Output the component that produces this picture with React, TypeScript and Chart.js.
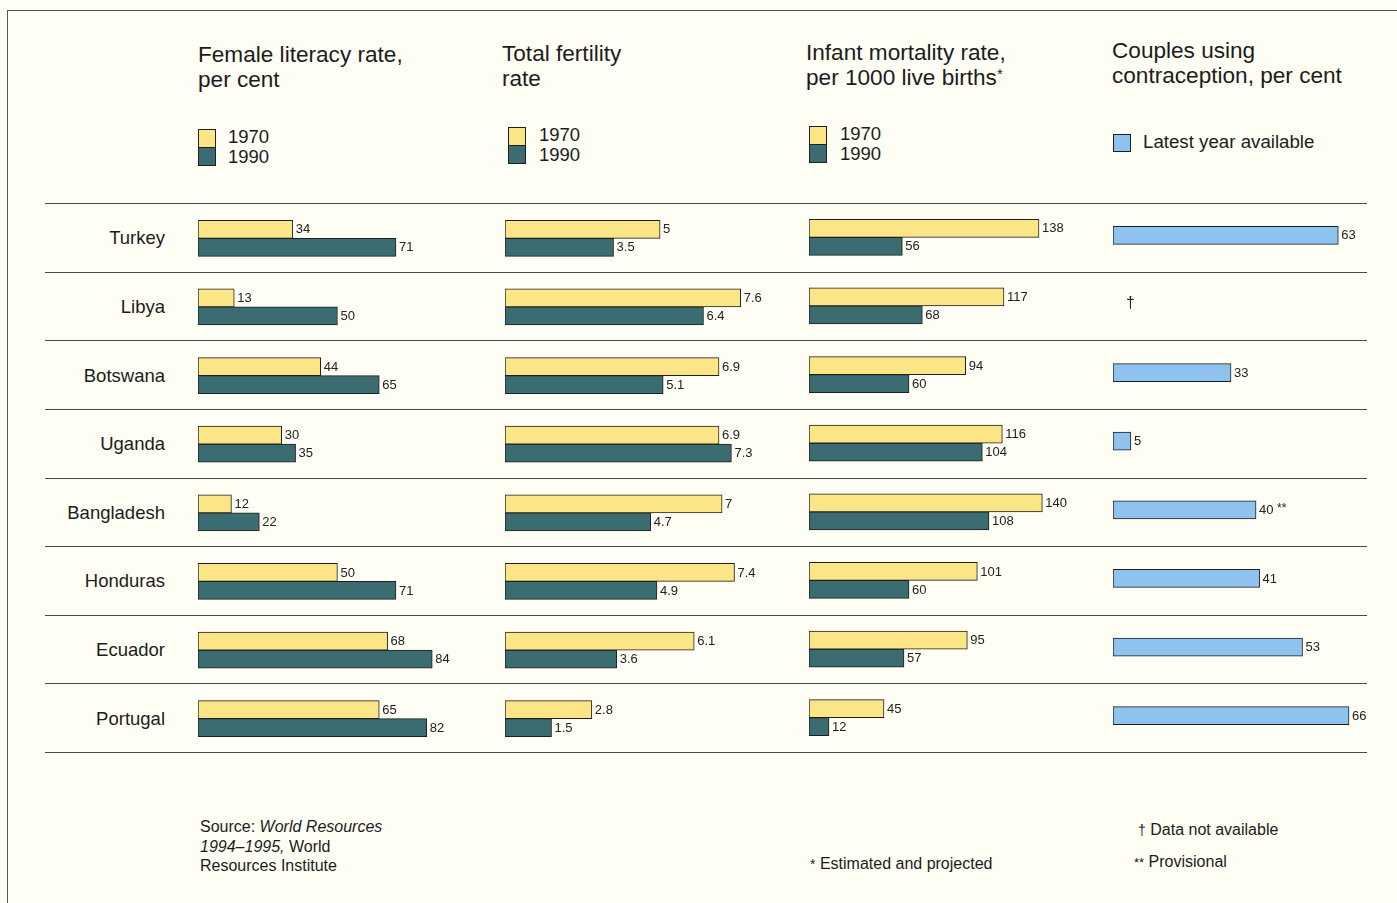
import React, { useEffect, useRef } from "react";
import { Chart, registerables } from "chart.js";

Chart.register(...registerables);

const countries = ["Turkey", "Libya", "Botswana", "Uganda", "Bangladesh", "Honduras", "Ecuador", "Portugal"];
const literacy1970 = [34, 13, 44, 30, 12, 50, 68, 65];
const literacy1990 = [71, 50, 65, 35, 22, 71, 84, 82];
const fertility1970 = [5, 7.6, 6.9, 6.9, 7, 7.4, 6.1, 2.8];
const fertility1990 = [3.5, 6.4, 5.1, 7.3, 4.7, 4.9, 3.6, 1.5];
const mortality1970 = [138, 117, 94, 116, 140, 101, 95, 45];
const mortality1990 = [56, 68, 60, 104, 108, 60, 57, 12];
const contraception: (number | null)[] = [63, null, 33, 5, 40, 41, 53, 66];
const contraceptionNotes = ["", "†", "", "", "**", "", "", ""];
const seriesYears = ["1970", "1990"];

const FONT = '"Liberation Sans", Arial, Helvetica, sans-serif';
const YELLOW = "#fbe586";
const TEAL = "#3b6c71";
const BLUE = "#8ec3f0";
const EDGE = "#1f1f1f";
const BG = "#fefef4";

const ROW_TOP = 204;
const ROW_BOTTOM = 753;
const ROW_H = (ROW_BOTTOM - ROW_TOP) / countries.length;

type PanelDef = {
  left: number;
  top: number;
  width: number;
  max: number;
  datasets: { label: string; data: (number | null)[]; color: string }[];
  notes?: string[];
};

const panels: PanelDef[] = [
  {
    left: 198, top: ROW_TOP, width: 290, max: 104,
    datasets: [
      { label: seriesYears[0], data: literacy1970, color: YELLOW },
      { label: seriesYears[1], data: literacy1990, color: TEAL },
    ],
  },
  {
    left: 505, top: ROW_TOP, width: 290, max: 9.35,
    datasets: [
      { label: seriesYears[0], data: fertility1970, color: YELLOW },
      { label: seriesYears[1], data: fertility1990, color: TEAL },
    ],
  },
  {
    left: 809, top: ROW_TOP - 1, width: 290, max: 174,
    datasets: [
      { label: seriesYears[0], data: mortality1970, color: YELLOW },
      { label: seriesYears[1], data: mortality1990, color: TEAL },
    ],
  },
  {
    left: 1113, top: ROW_TOP - 3, width: 270, max: 75.5,
    datasets: [{ label: "Latest year available", data: contraception, color: BLUE }],
    notes: contraceptionNotes,
  },
];

const valueLabels = {
  id: "valueLabels",
  afterDatasetsDraw(chart: any, _args: any, opts: any) {
    const ctx = chart.ctx;
    const notes: string[] | undefined = opts.notes;
    ctx.save();
    ctx.font = `13px ${FONT}`;
    ctx.fillStyle = "#222";
    ctx.textBaseline = "middle";
    ctx.textAlign = "left";
    chart.data.datasets.forEach((ds: any, di: number) => {
      const meta = chart.getDatasetMeta(di);
      meta.data.forEach((bar: any, i: number) => {
        const v = ds.data[i];
        const note = notes ? notes[i] : "";
        if (v === null || v === undefined) {
          const x = chart.scales.x.getPixelForValue(0) + 13;
          const y = chart.scales.y.getPixelForValue(i);
          ctx.font = `16px ${FONT}`;
          ctx.fillText(note, x, y);
          ctx.font = `13px ${FONT}`;
          return;
        }
        const txt = String(v);
        ctx.fillText(txt, bar.x + 3, bar.y + 0.5);
        if (note) {
          const w = ctx.measureText(txt + " ").width;
          ctx.font = `12px ${FONT}`;
          ctx.fillText(note, bar.x + 3 + w, bar.y - 1);
          ctx.font = `13px ${FONT}`;
        }
      });
    });
    ctx.restore();
  },
};

function Panel({ def }: { def: PanelDef }) {
  const ref = useRef<HTMLCanvasElement | null>(null);
  useEffect(() => {
    if (!ref.current) return;
    const chart = new Chart(ref.current, {
      type: "bar",
      data: {
        labels: countries,
        datasets: def.datasets.map((d) => ({
          label: d.label,
          data: d.data,
          backgroundColor: d.color,
          borderColor: EDGE,
          borderWidth: 1,
          borderSkipped: false,
          barThickness: 18,
        })),
      },
      options: {
        indexAxis: "y",
        animation: false,
        responsive: false,
        devicePixelRatio: 1,
        layout: { padding: 0 },
        scales: {
          x: { display: false, min: 0, max: def.max },
          y: { display: false, offset: true },
        },
        plugins: {
          legend: { display: false },
          tooltip: { enabled: false },
          valueLabels: { notes: def.notes },
        } as any,
      },
      plugins: [valueLabels],
    });
    return () => chart.destroy();
  }, [def]);
  return (
    <canvas
      ref={ref}
      width={def.width}
      height={ROW_BOTTOM - ROW_TOP}
      style={{ position: "absolute", left: def.left, top: def.top, width: def.width, height: ROW_BOTTOM - ROW_TOP }}
    />
  );
}

const txt = (extra: React.CSSProperties): React.CSSProperties => ({
  position: "absolute",
  fontFamily: FONT,
  color: "#1c1c1c",
  whiteSpace: "nowrap",
  ...extra,
});

function Legend2({ x, y, tx }: { x: number; y: number; tx: number }) {
  return (
    <>
      <div style={{ position: "absolute", left: x, top: y, width: 16, height: 17, background: YELLOW, border: `1px solid ${EDGE}`, borderBottom: "none" }} />
      <div style={{ position: "absolute", left: x, top: y + 18, width: 16, height: 17, background: TEAL, border: `1px solid ${EDGE}` }} />
      <div style={txt({ left: tx, top: y - 2, fontSize: 18.5, lineHeight: "20px" })}>
        {seriesYears[0]}
        <br />
        {seriesYears[1]}
      </div>
    </>
  );
}

const TITLE = 22.6;

export default function App() {
  return (
    <div style={{ position: "absolute", left: 0, top: 0, width: 1397, height: 903, background: BG, overflow: "hidden" }}>
      <div style={{ position: "absolute", left: 7, top: 10, width: 1390, height: 1, background: "#555" }} />
      <div style={{ position: "absolute", left: 7, top: 10, width: 1, height: 893, background: "#555" }} />

      <div style={txt({ left: 198, top: 42, fontSize: TITLE, lineHeight: "25px" })}>Female literacy rate,<br />per cent</div>
      <div style={txt({ left: 502, top: 41, fontSize: TITLE, lineHeight: "25px" })}>Total fertility<br />rate</div>
      <div style={txt({ left: 806, top: 40, fontSize: TITLE, lineHeight: "25px" })}>
        Infant mortality rate,<br />per 1000 live births<sup style={{ fontSize: 15, verticalAlign: "6px", lineHeight: 0 }}>*</sup>
      </div>
      <div style={txt({ left: 1112, top: 38, fontSize: TITLE, lineHeight: "25px" })}>Couples using<br />contraception, per cent</div>

      <Legend2 x={198} y={129} tx={228} />
      <Legend2 x={508} y={127} tx={539} />
      <Legend2 x={809} y={126} tx={840} />
      <div style={{ position: "absolute", left: 1113, top: 134, width: 16, height: 16, background: BLUE, border: `1px solid ${EDGE}` }} />
      <div style={txt({ left: 1143, top: 131, fontSize: 18.7, lineHeight: "22px" })}>Latest year available</div>

      {Array.from({ length: countries.length + 1 }, (_, i) => (
        <div key={i} style={{ position: "absolute", left: 45, top: Math.round(ROW_TOP + i * ROW_H) - 1, width: 1322, height: 1, background: "#4a4a4a" }} />
      ))}

      {countries.map((c, i) => (
        <div key={c} style={txt({ right: 1397 - 165, top: ROW_TOP + (i + 0.5) * ROW_H - 12, fontSize: 18.5, lineHeight: "24px", textAlign: "right" })}>{c}</div>
      ))}

      {panels.map((p, i) => (
        <Panel key={i} def={p} />
      ))}

      <div style={txt({ left: 200, top: 817, fontSize: 16, lineHeight: "19.5px" })}>
        Source: <i>World Resources</i>
        <br />
        <i>1994–1995,</i> World
        <br />
        Resources Institute
      </div>
      <div style={txt({ left: 810, top: 854, fontSize: 16, lineHeight: "20px" })}>
        <span style={{ fontSize: 14 }}>*</span> Estimated and projected
      </div>
      <div style={txt({ left: 1138, top: 820, fontSize: 16, lineHeight: "20px" })}>
        <span style={{ fontSize: 14 }}>†</span> Data not available
      </div>
      <div style={txt({ left: 1134, top: 852, fontSize: 16, lineHeight: "20px" })}>
        <span style={{ fontSize: 13 }}>**</span> Provisional
      </div>
    </div>
  );
}
